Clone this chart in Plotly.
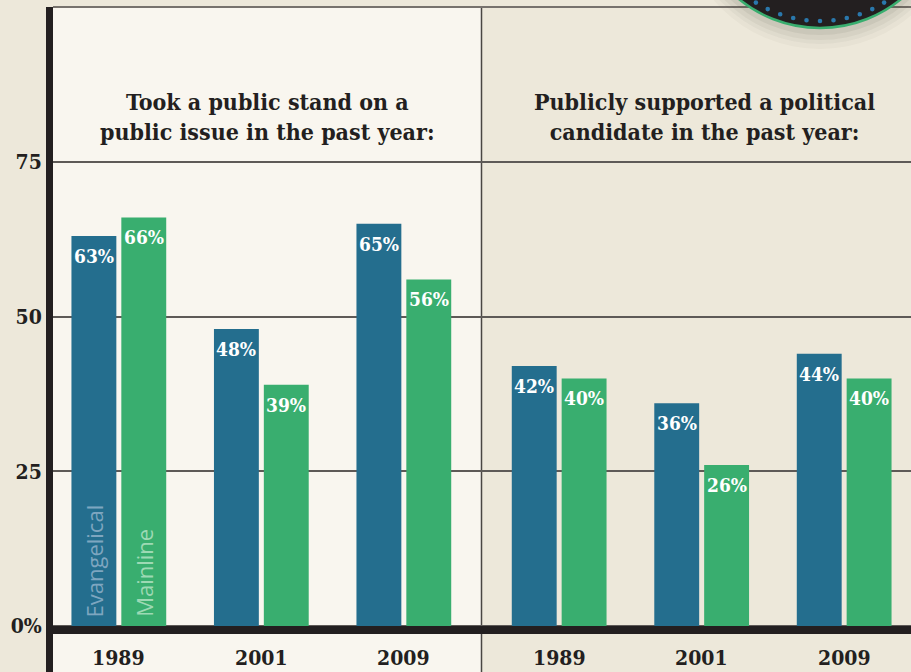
import math
import plotly.graph_objects as go

# Survey data: share of clergy who took each public action
years = ["1989", "2001", "2009"]
panel_titles = [
    "Took a public stand on a<br>public issue in the past year:",
    "Publicly supported a political<br>candidate in the past year:",
]
evangelical_stand = [63, 48, 65]
mainline_stand = [66, 39, 56]
evangelical_candidate = [42, 36, 44]
mainline_candidate = [40, 26, 40]
y_tickvals = [0, 25, 50, 75]
y_ticktext = ["0%", "25", "50", "75"]

BLUE = "#246E8E"
GREEN = "#39AE6F"
INK = "#231F20"
BG = "#EDE8DA"
PANEL_LIGHT = "#F9F6EF"
GRID = "#5E5A57"
SERIF = "DejaVu Serif Condensed, DejaVu Serif, serif"
SANS = "Open Sans, Noto Sans, sans-serif"

PANEL_GAP = 0.09  # extra spacing between the two panels, in group units
X_MIN, X_MAX = -0.462, 5.559
Y_MIN, Y_MAX = -7.42, 100

# x slot of every year group, left panel then right panel
slots = [i for i in range(3)] + [3 + i + PANEL_GAP for i in range(3)]
evangelical = evangelical_stand + evangelical_candidate
mainline = mainline_stand + mainline_candidate
divider_x = (slots[2] + slots[3]) / 2

fig = go.Figure()
fig.add_trace(go.Bar(x=slots, y=evangelical, name="Evangelical",
                     marker=dict(color=BLUE, line_width=0), hoverinfo="skip"))
fig.add_trace(go.Bar(x=slots, y=mainline, name="Mainline",
                     marker=dict(color=GREEN, line_width=0), hoverinfo="skip"))

half = 0.175  # centre offset of each bar inside its pair
annotations = []
for s, e, m in zip(slots, evangelical, mainline):
    for xv, v in ((s - half, e), (s + half, m)):
        annotations.append(dict(
            x=xv, y=v, xref="x", yref="y", text=f"{v}%", showarrow=False,
            yanchor="top", yshift=-7,
            font=dict(family=SERIF, size=19, color="white", weight="bold")))

# series names written up the first pair of bars
for xv, label, col in ((slots[0] - half, "Evangelical", "#7EA6C0"),
                       (slots[0] + half, "Mainline", "#9DD9B4")):
    annotations.append(dict(
        x=xv, y=0, xref="x", yref="y", text=label, showarrow=False,
        textangle=-90, yanchor="bottom", yshift=7,
        font=dict(family=SANS, size=22, color=col)))

# year labels under the baseline
for s, yr in zip(slots, years + years):
    annotations.append(dict(
        x=s, y=-5, xref="x", yref="y", text=yr, showarrow=False,
        font=dict(family=SERIF, size=21, color=INK, weight="bold")))

# panel headings
for xv, title in (((X_MIN + divider_x) / 2, panel_titles[0]),
                  (slots[4] + 0.02, panel_titles[1])):
    annotations.append(dict(
        x=xv, y=82.3, xref="x", yref="y", text=title, showarrow=False,
        align="center", yanchor="middle",
        font=dict(family=SERIF, size=23, color=INK, weight="bold")))

shapes = [
    # lighter background behind the left panel
    dict(type="rect", xref="x", yref="paper", x0=X_MIN, x1=divider_x, y0=0, y1=1,
         fillcolor=PANEL_LIGHT, line_width=0, layer="below"),
    # panel divider
    dict(type="line", xref="x", yref="paper", x0=divider_x, x1=divider_x, y0=0, y1=1,
         line=dict(color="#4A4643", width=1.5), layer="below"),
    # top border
    dict(type="line", xref="paper", yref="paper", x0=0, x1=1, y0=1, y1=1,
         line=dict(color="#77726D", width=2), layer="above"),
    # heavy baseline
    dict(type="rect", xref="paper", yref="y", x0=0, x1=1, y0=0, y1=-1.3,
         fillcolor=INK, line_width=0, layer="above"),
]

# badge in the top-right corner: soft shadow, dark disc, ring of dots
cx, cy, r = -91, 107, 128  # pixels relative to the plot's top-right corner
for grow, drop, alpha in ((12, 9, 0.03), (9, 7, 0.04), (6, 6, 0.05), (3, 4, 0.07)):
    shapes.append(dict(type="circle", xref="paper", yref="paper",
                       xsizemode="pixel", ysizemode="pixel", xanchor=1, yanchor=1,
                       x0=cx - r - grow, x1=cx + r + grow,
                       y0=cy - drop - r - grow, y1=cy - drop + r + grow,
                       fillcolor=f"rgba(60,50,40,{alpha})", line_width=0, layer="above"))
shapes.append(dict(type="circle", xref="paper", yref="paper",
                   xsizemode="pixel", ysizemode="pixel", xanchor=1, yanchor=1,
                   x0=cx - r, x1=cx + r, y0=cy - r, y1=cy + r,
                   fillcolor=INK, line=dict(color=GREEN, width=2.5), layer="above"))
dot_r, ring = 2.3, 121
for k in range(-6, 7):
    a = math.radians(-90 + k * 6.4)
    dx, dy = cx + ring * math.cos(a), cy + ring * math.sin(a)
    shapes.append(dict(type="circle", xref="paper", yref="paper",
                       xsizemode="pixel", ysizemode="pixel", xanchor=1, yanchor=1,
                       x0=dx - dot_r, x1=dx + dot_r, y0=dy - dot_r, y1=dy + dot_r,
                       fillcolor="#2A78AC", line_width=0, layer="above"))

fig.update_layout(
    width=911, height=672,
    margin=dict(l=53, r=0, t=7, b=0, pad=0),
    paper_bgcolor=BG, plot_bgcolor=BG,
    barmode="group", bargap=0.3, bargroupgap=0.1,
    showlegend=False,
    xaxis=dict(range=[X_MIN, X_MAX], visible=False, fixedrange=True),
    yaxis=dict(range=[Y_MIN, Y_MAX], tickvals=y_tickvals, ticktext=y_ticktext,
               showgrid=True, gridcolor=GRID, gridwidth=1.5, zeroline=False,
               showline=True, linecolor=INK, linewidth=7, ticks="",
               tickfont=dict(family=SERIF, size=21, color=INK, weight="bold"),
               fixedrange=True),
    annotations=annotations,
    shapes=shapes,
)

fig.write_html("out.html")
